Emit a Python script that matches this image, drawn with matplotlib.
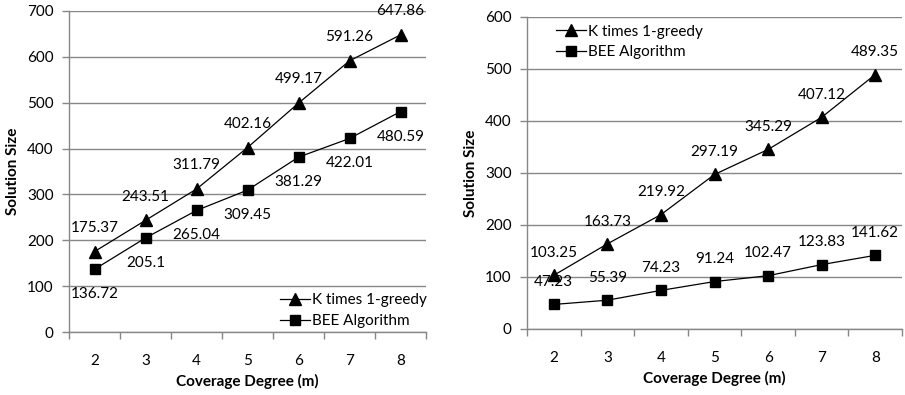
import matplotlib
matplotlib.use('Agg')
from matplotlib import pyplot as plt
import numpy as np

plt.rcParams['font.family'] = ['Lato', 'DejaVu Sans']

# 数据
degrees = [2, 3, 4, 5, 6, 7, 8]
left_greedy = [175.37, 243.51, 311.79, 402.16, 499.17, 591.26, 647.86]
left_bee = [136.72, 205.1, 265.04, 309.45, 381.29, 422.01, 480.59]
right_greedy = [103.25, 163.73, 219.92, 297.19, 345.29, 407.12, 489.35]
right_bee = [47.23, 55.39, 74.23, 91.24, 102.47, 123.83, 141.62]
labels = ['K times 1-greedy', 'BEE Algorithm']

gray = '#878787'
fs = 11

fig = plt.figure(figsize=(9.05, 3.95), dpi=100)
W, H = 905, 395
ax1 = fig.add_axes([69 / W, 1 - 332 / H, (426 - 69) / W, (332 - 11) / H])
ax2 = fig.add_axes([527 / W, 1 - 329 / H, (902 - 527) / W, (329 - 17) / H])


def setup(ax, ymax):
    ax.set_xlim(1.5, 8.5)
    ax.set_ylim(0, ymax)
    ax.set_xticks(degrees)
    ax.set_xticks(np.arange(1.5, 9, 1), minor=True)
    ax.tick_params(axis='x', which='major', length=0, pad=16, labelsize=fs)
    ax.tick_params(axis='x', which='minor', length=5, color=gray, width=1)
    ax.set_yticks(np.arange(0, ymax + 1, 100))
    ax.tick_params(axis='y', length=5, color=gray, width=1, pad=6, labelsize=fs)
    ax.yaxis.grid(True, color=gray, linewidth=1)
    ax.set_axisbelow(True)
    for s in ['top', 'right']:
        ax.spines[s].set_visible(False)
    for s in ['left', 'bottom']:
        ax.spines[s].set_color(gray)
        ax.spines[s].set_linewidth(1)
    ax.set_xlabel('Coverage Degree (m)', fontweight='bold', fontsize=fs, labelpad=4)
    ax.set_ylabel('Solution Size', fontweight='bold', fontsize=fs, labelpad=5)


def annotate(ax, xs, ys, dy):
    for x, y in zip(xs, ys):
        ax.annotate('%g' % y, (x, y), xytext=(0, dy), textcoords='offset points',
                    ha='center', va='center', fontsize=fs)


# 左图
setup(ax1, 700)
ax1.plot(degrees, left_greedy, color='black', lw=0.9, marker='^', ms=8, label=labels[0])
ax1.plot(degrees, left_bee, color='black', lw=0.9, marker='s', ms=7.5, label=labels[1])
annotate(ax1, degrees, left_greedy, 17)
annotate(ax1, degrees, left_bee, -18)
ax1.legend(loc='lower right', frameon=False, fontsize=fs, handlelength=2.0,
           handletextpad=0.1, labelspacing=0.45, bbox_to_anchor=(1.04, -0.03))

# 右图
setup(ax2, 600)
ax2.plot(degrees, right_greedy, color='black', lw=0.9, marker='^', ms=8, label=labels[0])
ax2.plot(degrees, right_bee, color='black', lw=0.9, marker='s', ms=7.5, label=labels[1])
annotate(ax2, degrees, right_greedy, 16)
annotate(ax2, degrees, right_bee, 16)
ax2.legend(loc='upper left', frameon=False, fontsize=fs, handlelength=2.0,
           handletextpad=0.1, labelspacing=0.45, bbox_to_anchor=(0.04, 1.02))

plt.savefig('out.png', dpi=100)
